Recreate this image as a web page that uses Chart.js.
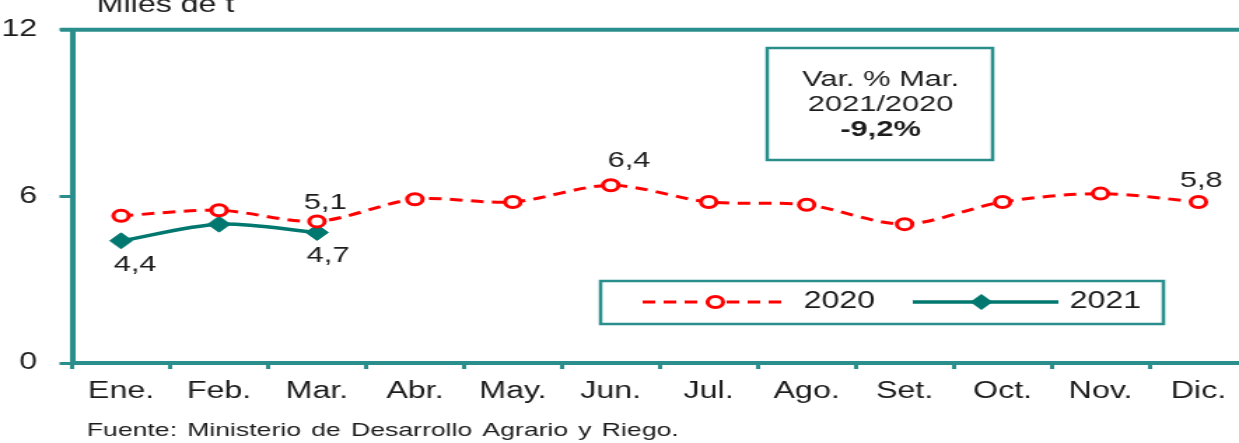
<!DOCTYPE html>
<html>
<head>
<meta charset="utf-8">
<script src="https://cdn.jsdelivr.net/npm/chart.js@4.4.1/dist/chart.umd.min.js"></script>
<style>
  html, body { margin: 0; padding: 0; background: #fff; overflow: hidden; width: 1239px; height: 443px; }
  /* the reference is stretched sideways, so draw narrow and scale up;
     the plot runs a little past the right edge, so the canvas is wider than the window */
  #wrap { width: 900px; height: 443px; transform: scale(1.4, 1); transform-origin: 0 0; }
</style>
</head>
<body>
<div id="wrap"><canvas id="prodChart" width="900" height="443"></canvas></div>
<script>
const meses = ["Ene.", "Feb.", "Mar.", "Abr.", "May.", "Jun.", "Jul.", "Ago.", "Set.", "Oct.", "Nov.", "Dic."];
const serie2020 = [5.3, 5.5, 5.1, 5.9, 5.8, 6.4, 5.8, 5.7, 5.0, 5.8, 6.1, 5.8];
const serie2021 = [4.4, 5.0, 4.7];
const yTicks = [0, 6, 12];
const nombres = ["2020", "2021"];

const TEAL = "#2a8f8c";
const TEAL_DARK = "#00776f";
const RED = "#ff0000";
const TXT = "#1c1c1c";
const FONT = "Arial, 'Liberation Sans', sans-serif";

// which points get a value label, and where it sits relative to the point
const rotulos = [
    { ds: 0, i: 2, dx: 6, dy: -18 },
    { ds: 0, i: 5, dx: 13, dy: -24 },
    { ds: 0, i: 11, dx: 2, dy: -21 },
    { ds: 1, i: 0, dx: 10, dy: 24 },
    { ds: 1, i: 2, dx: 8, dy: 23 }
];

const extras = {
    id: "extras",
    afterDraw(chart) {
        const ctx = chart.ctx;
        const area = chart.chartArea;
        ctx.save();

        // top frame line
        ctx.strokeStyle = TEAL;
        ctx.lineWidth = 4;
        ctx.beginPath();
        ctx.moveTo(43, area.top);
        ctx.lineTo(chart.width, area.top);
        ctx.stroke();

        // unit title (cut by the top edge)
        ctx.fillStyle = TXT;
        ctx.font = "23px " + FONT;
        ctx.textAlign = "left";
        ctx.textBaseline = "alphabetic";
        ctx.fillText("Miles de t", 69, 12);

        // source
        ctx.font = "19px " + FONT;
        ctx.textBaseline = "middle";
        ctx.wordSpacing = "2px";
        ctx.fillText("Fuente: Ministerio de Desarrollo Agrario y Riego.", 62, 431);
        ctx.wordSpacing = "0px";

        // value labels
        ctx.font = "22px " + FONT;
        ctx.textAlign = "center";
        rotulos.forEach(function (r) {
            const pt = chart.getDatasetMeta(r.ds).data[r.i];
            const v = chart.data.datasets[r.ds].data[r.i];
            ctx.fillText(v.toFixed(1).replace(".", ","), pt.x + r.dx, pt.y + r.dy);
        });

        // variation box
        ctx.strokeStyle = TEAL;
        ctx.lineWidth = 2.5;
        ctx.strokeRect(548, 48, 161, 112);
        ctx.fillStyle = TXT;
        ctx.font = "22px " + FONT;
        ctx.fillText("Var. % Mar.", 629, 80);
        ctx.fillText("2021/2020", 629, 105);
        ctx.font = "bold 22px " + FONT;
        ctx.fillText("-9,2%", 629, 130);

        // legend box
        ctx.strokeRect(429, 281, 402, 43);
        const ly = 302;
        ctx.strokeStyle = RED;
        ctx.lineWidth = 3;
        ctx.setLineDash([9, 6]);
        ctx.beginPath();
        ctx.moveTo(459, ly);
        ctx.lineTo(563, ly);
        ctx.stroke();
        ctx.setLineDash([]);
        ctx.fillStyle = "#fff";
        ctx.beginPath();
        ctx.arc(511, ly, 5.5, 0, Math.PI * 2);
        ctx.fill();
        ctx.stroke();

        ctx.strokeStyle = TEAL_DARK;
        ctx.lineWidth = 3.5;
        ctx.beginPath();
        ctx.moveTo(652, ly);
        ctx.lineTo(756, ly);
        ctx.stroke();
        ctx.fillStyle = TEAL_DARK;
        ctx.beginPath();
        ctx.moveTo(701, ly - 8);
        ctx.lineTo(709, ly);
        ctx.lineTo(701, ly + 8);
        ctx.lineTo(693, ly);
        ctx.closePath();
        ctx.fill();

        ctx.fillStyle = TXT;
        ctx.font = "23px " + FONT;
        ctx.textAlign = "left";
        ctx.fillText(nombres[0], 574, ly);
        ctx.fillText(nombres[1], 764, ly);

        ctx.restore();
    }
};

new Chart(document.getElementById("prodChart").getContext("2d"), {
    type: "line",
    data: {
        labels: meses,
        datasets: [{
            label: nombres[0],
            data: serie2020,
            borderColor: RED,
            borderWidth: 3,
            borderDash: [9, 6],
            pointStyle: "circle",
            pointRadius: 5.5,
            pointBorderWidth: 3,
            pointBorderColor: RED,
            pointBackgroundColor: "#fff",
            tension: 0.3
        }, {
            label: nombres[1],
            data: serie2021,
            borderColor: TEAL_DARK,
            borderWidth: 3.5,
            pointStyle: "rectRot",
            pointRadius: 8,
            pointBorderWidth: 1,
            pointBorderColor: TEAL_DARK,
            pointBackgroundColor: TEAL_DARK,
            tension: 0.3
        }]
    },
    options: {
        responsive: false,
        devicePixelRatio: 1,
        animation: false,
        events: [],
        layout: { padding: { top: 27, left: 0, right: 0, bottom: 0 } },
        plugins: { legend: { display: false }, tooltip: { enabled: false } },
        scales: {
            x: {
                offset: true,
                afterFit: function (s) { s.height = 80; },
                grid: { offset: true, drawOnChartArea: false, tickLength: 6, color: TEAL, lineWidth: 3 },
                border: { color: TEAL, width: 4 },
                ticks: { color: TXT, font: { family: FONT, size: 23 }, padding: 9, maxRotation: 0 }
            },
            y: {
                min: 0,
                max: 12,
                afterFit: function (s) { s.width = 51.5; },
                afterBuildTicks: function (s) { s.ticks = yTicks.map(v => ({ value: v })); },
                grid: { drawOnChartArea: false, tickLength: 9, color: TEAL, lineWidth: 3 },
                border: { color: TEAL, width: 4 },
                ticks: { color: TXT, font: { family: FONT, size: 23 }, padding: 16 }
            }
        }
    },
    plugins: [extras]
});
</script>
</body>
</html>
